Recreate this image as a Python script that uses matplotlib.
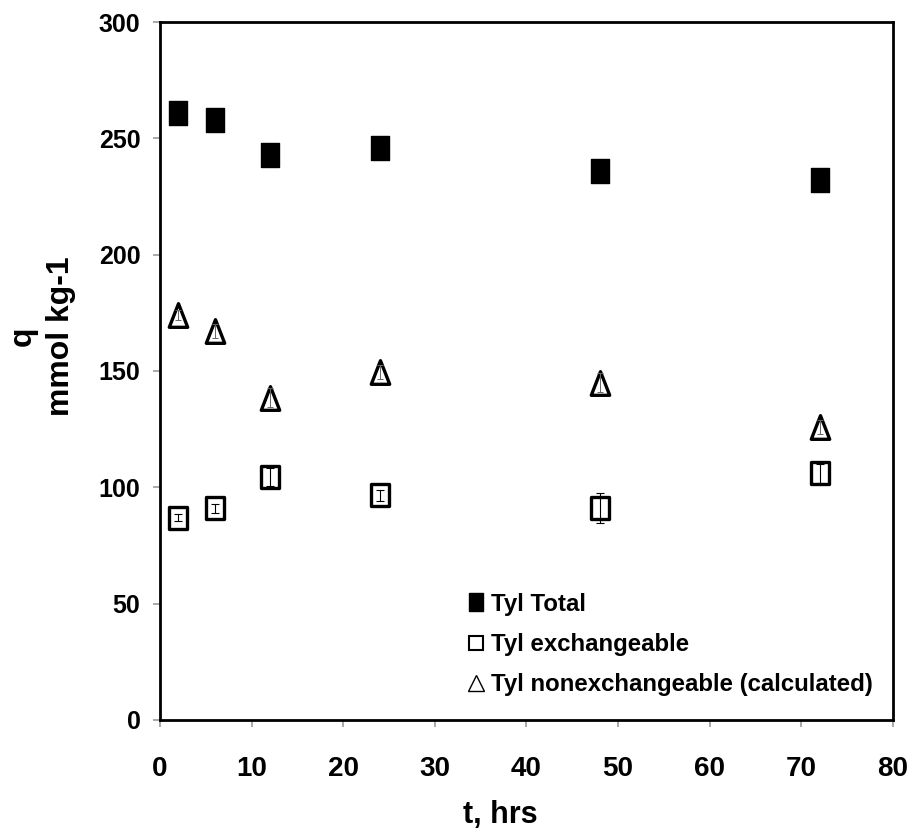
import matplotlib
matplotlib.use("Agg")
import matplotlib.pyplot as plt
from matplotlib.path import Path
from matplotlib.lines import Line2D
from matplotlib import font_manager

# Sorption time series for tylosin
t_hrs = [2, 6, 12, 24, 48, 72]
tyl_total = [261, 258, 243, 246, 236, 232]
tyl_exch = [87, 91, 104.5, 96.5, 91, 106]
tyl_exch_err = [1.5, 2.0, 4.0, 2.5, 6.5, 4.0]
tyl_nonexch = [174, 167, 138.5, 149.5, 145, 126]
tyl_nonexch_err = [2.0, 3.0, 4.0, 3.0, 4.0, 3.0]

x_ticks = [0, 10, 20, 30, 40, 50, 60, 70, 80]
y_ticks = [0, 50, 100, 150, 200, 250, 300]


def pick_font(names):
    for n in names:
        try:
            font_manager.findfont(n, fallback_to_default=False)
            return n
        except Exception:
            continue
    return "DejaVu Sans"


wide = pick_font(["Liberation Sans", "Arial", "DejaVu Sans"])
narrow = pick_font(["Liberation Sans Narrow", "Arial Narrow", "Liberation Sans"])
is_narrow = narrow != wide

# tall rectangle and triangle marker shapes
rect = Path([(-0.78, -1), (0.78, -1), (0.78, 1), (-0.78, 1), (-0.78, -1)],
            [Path.MOVETO, Path.LINETO, Path.LINETO, Path.LINETO, Path.CLOSEPOLY])
tri = Path([(-0.78, -1), (0.78, -1), (0, 1), (-0.78, -1)],
           [Path.MOVETO, Path.LINETO, Path.LINETO, Path.CLOSEPOLY])

fig = plt.figure(figsize=(9.14, 8.4), dpi=100)
ax = fig.add_axes([0.175, 0.1429, 0.802, 0.8309])

ax.plot(t_hrs, tyl_total, linestyle="none", marker=rect, markersize=17,
        markerfacecolor="black", markeredgecolor="black", markeredgewidth=1.0,
        zorder=3)

ax.plot(t_hrs, tyl_exch, linestyle="none", marker=rect, markersize=16.5,
        markerfacecolor="white", markeredgecolor="black", markeredgewidth=2.4,
        zorder=3)
ax.errorbar(t_hrs, tyl_exch, yerr=tyl_exch_err, fmt="none", ecolor="black",
            elinewidth=0.8, capsize=3, capthick=0.8, zorder=4)

ax.plot(t_hrs, tyl_nonexch, linestyle="none", marker=tri, markersize=17,
        markerfacecolor="white", markeredgecolor="black", markeredgewidth=2.4,
        zorder=3)
ax.errorbar(t_hrs, tyl_nonexch, yerr=tyl_nonexch_err, fmt="none",
            ecolor="#666666", elinewidth=0.7, capsize=2.5, capthick=0.7,
            zorder=4)

ax.set_xlim(0, 80)
ax.set_ylim(0, 300)
ax.set_xticks(x_ticks)
ax.set_yticks(y_ticks)
ax.set_xticklabels([str(v) for v in x_ticks], fontfamily=narrow,
                   fontweight="bold", fontsize=24 if is_narrow else 20)
ax.set_yticklabels([str(v) for v in y_ticks], fontfamily=wide,
                   fontweight="bold", fontsize=18)
ax.tick_params(axis="both", direction="out", length=5, width=1.2,
               color="#999999")
ax.tick_params(axis="x", pad=21)
ax.tick_params(axis="y", pad=9)

for s in ax.spines.values():
    s.set_linewidth(2.0)
    s.set_color("black")

ax.set_xlabel("t, hrs", fontfamily=narrow, fontweight="bold",
              fontsize=26 if is_narrow else 22)
ax.xaxis.set_label_coords(0.465, -0.115)
ax.set_ylabel("q\nmmol kg-1", fontfamily=wide, fontweight="bold", fontsize=23,
              linespacing=1.35, multialignment="center")
ax.yaxis.set_label_coords(-0.115, 0.55)

handles = [
    Line2D([], [], linestyle="none", marker=rect, markersize=13,
           markerfacecolor="black", markeredgecolor="black"),
    Line2D([], [], linestyle="none", marker="s", markersize=10,
           markerfacecolor="white", markeredgecolor="black",
           markeredgewidth=1.5),
    Line2D([], [], linestyle="none", marker="^", markersize=11,
           markerfacecolor="white", markeredgecolor="black",
           markeredgewidth=1.0),
]
labels = ["Tyl Total", "Tyl exchangeable", "Tyl nonexchangeable (calculated)"]
leg = ax.legend(handles, labels, loc="upper left",
                bbox_to_anchor=(0.408, 0.196), frameon=False,
                handlelength=0.6, handletextpad=0.35, labelspacing=0.72,
                borderaxespad=0, prop={"family": narrow, "weight": "bold",
                                       "size": 21 if is_narrow else 17.3})

fig.savefig("out.png", dpi=100)
